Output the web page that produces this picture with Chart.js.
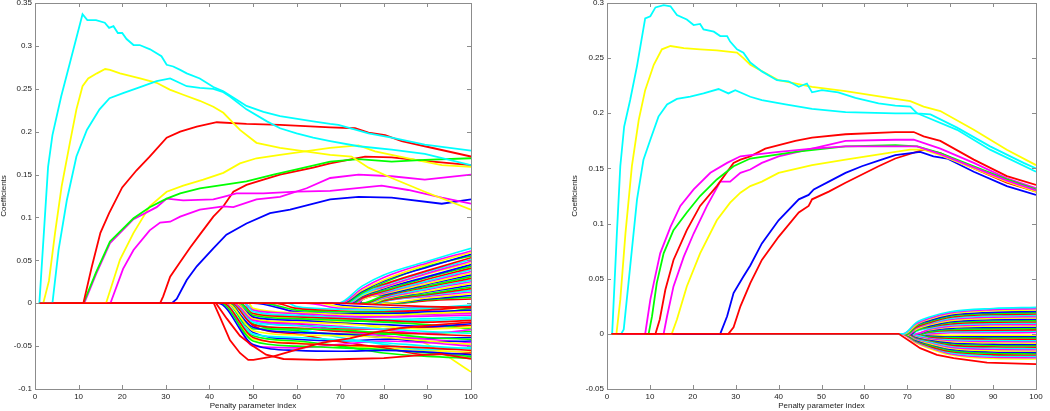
<!DOCTYPE html>
<html>
<head>
<meta charset="utf-8">
<script src="https://cdn.jsdelivr.net/npm/chart.js@4.4.0/dist/chart.umd.min.js"></script>
<style>
    body { margin: 0; background: #fff; width: 1050px; height: 411px; overflow: hidden; position: relative; }
    .panel { position: absolute; top: 0; height: 411px; }
    #left-panel { left: 0; width: 480px; }
    #right-panel { left: 560px; width: 490px; }
</style>
</head>
<body>
<div class="panel" id="left-panel"><canvas id="left-chart" width="480" height="411"></canvas></div>
<div class="panel" id="right-panel"><canvas id="right-chart" width="490" height="411"></canvas></div>
<script>
// 刻度
const xTicks = [0, 10, 20, 30, 40, 50, 60, 70, 80, 90, 100];
const leftYTicks = [-0.1, -0.05, 0, 0.05, 0.1, 0.15, 0.2, 0.25, 0.3, 0.35];
const rightYTicks = [-0.05, 0, 0.05, 0.1, 0.15, 0.2, 0.25, 0.3];

// 左图 - 主要系数路径 [x, y]
const leftBaseRed = [[1, 0], [70, 0], [80, -0.002], [90, -0.004], [100, -0.005]];
const leftCyanA = [[1, 0], [3, 0.159], [4, 0.196], [6, 0.241], [8, 0.28], [10.9, 0.337], [12, 0.330], [14, 0.330], [16, 0.327], [17, 0.321], [18, 0.323], [19, 0.315], [20, 0.315], [21, 0.308], [22.6, 0.301], [24, 0.301], [26.4, 0.296], [29, 0.288], [30.2, 0.278], [31.7, 0.276], [33.3, 0.272], [34.8, 0.268], [37.8, 0.262], [40.9, 0.252], [43.2, 0.247], [47, 0.235], [48.5, 0.230], [52.4, 0.223], [56.2, 0.218], [63.8, 0.212], [67.7, 0.209], [69.6, 0.208], [76.5, 0.198], [81.8, 0.193], [89.4, 0.185], [100, 0.178]];
const leftCyanB = [[4, 0], [5.4, 0.062], [7.3, 0.120], [9.5, 0.171], [11.9, 0.202], [14.8, 0.226], [17.1, 0.239], [20.2, 0.245], [24.1, 0.252], [27.9, 0.259], [31, 0.262], [34.8, 0.253], [37.8, 0.251], [40.9, 0.250], [43.2, 0.246], [44.7, 0.241], [48.5, 0.226], [53.2, 0.212], [56.2, 0.204], [60, 0.198], [63.8, 0.193], [67.7, 0.189], [74.2, 0.183], [81.8, 0.179], [89.4, 0.174], [100, 0.161]];
const leftYellowA = [[1.9, 0], [3.2, 0.026], [4.6, 0.082], [6.1, 0.136], [8, 0.187], [9.5, 0.226], [10.9, 0.253], [12.2, 0.262], [14.2, 0.268], [16.1, 0.273], [17.2, 0.272], [19.5, 0.268], [24.1, 0.262], [27.9, 0.257], [30.9, 0.249], [34, 0.243], [37.8, 0.236], [40.9, 0.229], [43.2, 0.222], [47, 0.202], [50.8, 0.187], [56.2, 0.181], [67.7, 0.173], [72.6, 0.171], [76.5, 0.158], [81.8, 0.146], [89.4, 0.130], [100, 0.109]];
const leftYellowB = [[16.3, 0], [19.5, 0.051], [22.6, 0.082], [26.3, 0.113], [30.2, 0.130], [34, 0.137], [38.6, 0.144], [43.2, 0.152], [47, 0.163], [50.8, 0.169], [56.2, 0.173], [67.7, 0.181], [74.2, 0.184], [78, 0.177], [85.6, 0.169], [93.3, 0.161], [100, 0.159]];
const leftRedA = [[11.1, 0], [13, 0.042], [15, 0.082], [17, 0.105], [20, 0.135], [23.3, 0.155], [26.3, 0.171], [30.2, 0.193], [33.3, 0.200], [37.1, 0.206], [41.7, 0.211], [48.5, 0.209], [56.2, 0.208], [67.7, 0.205], [73.4, 0.204], [76.5, 0.199], [80.3, 0.196], [84.1, 0.189], [89.4, 0.183], [100, 0.171]];
const leftRedB = [[28.7, 0], [29.4, 0.008], [31, 0.031], [33.3, 0.048], [35.6, 0.065], [37.8, 0.080], [40.9, 0.101], [43.2, 0.113], [45.5, 0.130], [48.5, 0.138], [52.4, 0.144], [56.2, 0.150], [63.8, 0.158], [67.7, 0.163], [75.7, 0.171], [81.8, 0.170], [89.4, 0.166], [100, 0.161]];
const leftGreen = [[11.1, 0], [14, 0.036], [17.2, 0.072], [22.6, 0.099], [26.3, 0.112], [30.2, 0.122], [33.3, 0.128], [37.8, 0.134], [43.2, 0.138], [48.5, 0.142], [54.7, 0.150], [60, 0.156], [67.7, 0.165], [74.2, 0.168], [81.8, 0.165], [89.4, 0.167], [100, 0.169]];
const leftMagentaA = [[11.3, 0], [14, 0.034], [17.2, 0.070], [22.6, 0.098], [27.9, 0.112], [30.2, 0.122], [34, 0.120], [40.9, 0.121], [43.2, 0.124], [46.2, 0.128], [52.4, 0.128], [60, 0.130], [67.7, 0.131], [79.5, 0.137], [85.6, 0.132], [93.3, 0.123], [100, 0.116]];
const leftMagentaB = [[17.3, 0], [20.2, 0.040], [22.6, 0.062], [26.3, 0.085], [28.7, 0.094], [31, 0.095], [33.3, 0.101], [37.8, 0.109], [43.2, 0.113], [45.5, 0.112], [50.8, 0.121], [56.2, 0.124], [62.3, 0.134], [67.7, 0.146], [74.2, 0.150], [81.8, 0.148], [89.4, 0.144], [100, 0.150]];
const leftBlue = [[31.4, 0], [32.5, 0.005], [34.8, 0.027], [37.1, 0.043], [40.9, 0.064], [43.9, 0.080], [48.5, 0.093], [53.9, 0.105], [58.5, 0.109], [67.7, 0.121], [74.2, 0.124], [81.8, 0.123], [93.3, 0.116], [100, 0.121]];
const leftRedC = [[41, 0], [42.4, -0.016], [44.7, -0.043], [47, -0.058], [48.9, -0.066], [50.1, -0.066], [54.7, -0.062], [60.8, -0.053], [66, -0.046], [72.2, -0.041], [78, -0.034], [83.7, -0.029], [90, -0.026], [100, -0.022]];
const leftRedD = [[41.5, 0], [44, -0.018], [47, -0.038], [50, -0.050], [53, -0.060], [57, -0.065], [65, -0.066], [72, -0.065], [80, -0.064], [87, -0.061], [93, -0.059], [100, -0.065]];

// 左图 - 负向系数束: [起点, x=50, 60, 70, 80, 90, 100]
const leftNegX = [50, 60, 70, 80, 90, 100];
const leftNegBundle = [
    [42, -0.048, -0.055, -0.056, -0.055, -0.057, -0.060],
    [42.5, -0.044, -0.050, -0.052, -0.054, -0.058, -0.062],
    [43, -0.040, -0.047, -0.049, -0.050, -0.052, -0.055],
    [43, -0.036, -0.040, -0.043, -0.046, -0.050, -0.053],
    [43.5, -0.050, -0.052, -0.048, -0.044, -0.046, -0.050],
    [44, -0.032, -0.037, -0.038, -0.040, -0.044, -0.048],
    [44, -0.028, -0.034, -0.036, -0.040, -0.045, -0.044],
    [44.5, -0.030, -0.030, -0.031, -0.035, -0.040, -0.042],
    [45, -0.025, -0.029, -0.033, -0.034, -0.036, -0.038],
    [45, -0.022, -0.026, -0.028, -0.030, -0.033, -0.035],
    [45.5, -0.020, -0.024, -0.027, -0.031, -0.035, -0.031],
    [46, -0.018, -0.022, -0.024, -0.027, -0.030, -0.028],
    [46, -0.016, -0.020, -0.023, -0.025, -0.027, -0.024],
    [47, -0.014, -0.018, -0.020, -0.022, -0.025, -0.030],
    [47, -0.012, -0.016, -0.018, -0.020, -0.022, -0.020],
    [48, -0.010, -0.014, -0.017, -0.019, -0.018, -0.016],
    [48, -0.008, -0.012, -0.015, -0.016, -0.015, -0.014],
    [49, -0.006, -0.011, -0.013, -0.014, -0.012, -0.010],
    [50, null, -0.010, -0.012, -0.012, -0.010, -0.008],
    [52, null, -0.008, -0.010, -0.011, -0.012, -0.006],
    [55, null, -0.006, -0.009, -0.010, -0.008, -0.004],
    [58, null, -0.004, -0.007, -0.008, -0.006, -0.002],
    [62, null, null, -0.006, -0.008, -0.009, -0.011],
    [65, null, null, -0.004, -0.006, -0.007, -0.005],
    [68, null, null, -0.002, -0.005, -0.006, -0.003],
    [44, -0.038, -0.044, -0.050, -0.058, -0.062, -0.064],
    [46, -0.026, -0.036, -0.045, -0.052, -0.060, -0.058],
    [47, -0.022, -0.030, -0.040, -0.048, -0.054, -0.052],
    [48, -0.018, -0.026, -0.032, -0.038, -0.042, -0.046],
    [46, -0.012, -0.018, -0.022, -0.030, -0.048, -0.080],
    [44, -0.034, -0.042, -0.044, -0.042, -0.041, -0.040],
    [45.5, -0.024, -0.032, -0.036, -0.036, -0.035, -0.033],
    [47, -0.016, -0.024, -0.030, -0.030, -0.028, -0.026],
    [49, -0.008, -0.015, -0.020, -0.021, -0.020, -0.018],
    [53, null, -0.012, -0.016, -0.015, -0.013, -0.012],
    [43, -0.042, -0.046, -0.050, -0.052, -0.055, -0.057]
];

// 左图 - 正向系数束: [起点, x=75, 80, 90, 100]
const leftPosX = [75, 80, 90, 100];
const leftPosBundle = [
    [69.5, 0.020, 0.033, 0.049, 0.064],
    [70, 0.017, 0.030, 0.047, 0.061],
    [70, 0.015, 0.027, 0.045, 0.059],
    [70.5, 0.014, 0.026, 0.042, 0.057],
    [71, 0.012, 0.024, 0.043, 0.055],
    [71, 0.013, 0.022, 0.038, 0.053],
    [71.5, 0.010, 0.021, 0.037, 0.051],
    [72, 0.011, 0.019, 0.035, 0.049],
    [72, 0.009, 0.018, 0.034, 0.047],
    [72.5, 0.008, 0.017, 0.031, 0.045],
    [73, 0.008, 0.015, 0.030, 0.043],
    [73, 0.006, 0.014, 0.028, 0.041],
    [73.5, 0.007, 0.013, 0.026, 0.039],
    [74, 0.005, 0.012, 0.025, 0.037],
    [74, 0.004, 0.011, 0.023, 0.035],
    [74.5, 0.004, 0.010, 0.022, 0.033],
    [75, null, 0.009, 0.020, 0.031],
    [75.5, null, 0.008, 0.019, 0.029],
    [76, null, 0.007, 0.017, 0.027],
    [76, null, 0.006, 0.016, 0.025],
    [77, null, 0.005, 0.014, 0.023],
    [77, null, 0.005, 0.013, 0.021],
    [78, null, 0.004, 0.011, 0.019],
    [78, null, 0.003, 0.010, 0.017],
    [79, null, 0.002, 0.009, 0.015],
    [79, null, 0.002, 0.008, 0.013],
    [80, null, null, 0.006, 0.011],
    [81, null, null, 0.005, 0.009],
    [82, null, null, 0.004, 0.007],
    [83, null, null, 0.003, 0.005]
];

// 右图 - 主要系数路径 [x, y]
const rightBaseRed = [[1, 0], [68, 0], [70.7, -0.007], [73, -0.013], [76.9, -0.019], [80.8, -0.022], [88.6, -0.026], [100, -0.0275]];
const rightCyanA = [[1.2, 0], [2.3, 0.091], [3.1, 0.152], [4, 0.188], [5.4, 0.212], [7, 0.243], [8.9, 0.286], [10.1, 0.288], [11.3, 0.296], [13.2, 0.298], [14.8, 0.297], [16.3, 0.289], [18.6, 0.285], [20.2, 0.280], [21.7, 0.281], [22.5, 0.276], [24.9, 0.274], [26.4, 0.270], [28, 0.270], [28.7, 0.265], [30.3, 0.258], [31.8, 0.255], [33.4, 0.246], [36.1, 0.238], [39.6, 0.230], [42.3, 0.229], [44.7, 0.224], [46.6, 0.227], [47.8, 0.219], [50.1, 0.221], [53.9, 0.219], [57.9, 0.214], [63.3, 0.209], [67.2, 0.207], [70.7, 0.206], [72.3, 0.200], [75.4, 0.199], [81.6, 0.187], [89.3, 0.170], [97.1, 0.155], [100, 0.150]];
const rightCyanB = [[3.3, 0], [3.9, 0.004], [5.4, 0.061], [7, 0.122], [8.5, 0.158], [10.1, 0.176], [12, 0.197], [14, 0.208], [16.3, 0.213], [19.4, 0.215], [22.5, 0.218], [26, 0.222], [28.3, 0.218], [29.9, 0.221], [33.4, 0.215], [36.1, 0.212], [41.6, 0.208], [47.8, 0.204], [55.6, 0.201], [67.2, 0.200], [72.3, 0.200], [81.6, 0.185], [89.3, 0.167], [100, 0.147]];
const rightYellowA = [[2.2, 0], [3.1, 0.031], [4.3, 0.091], [5.8, 0.152], [7.4, 0.194], [8.9, 0.221], [10.9, 0.244], [12.8, 0.258], [14.8, 0.261], [17.9, 0.259], [21.7, 0.258], [25.6, 0.257], [30.3, 0.255], [31.8, 0.250], [33.4, 0.244], [40, 0.230], [47.8, 0.224], [55.6, 0.220], [67.2, 0.213], [70.7, 0.211], [73.8, 0.206], [77.7, 0.202], [85.5, 0.185], [93.2, 0.167], [100, 0.153]];
const rightMagentaA = [[8.9, 0], [10.1, 0.031], [10.9, 0.046], [12.4, 0.073], [14.8, 0.097], [17.1, 0.116], [20.2, 0.131], [24.1, 0.146], [28, 0.155], [31.1, 0.161], [33.4, 0.162], [40, 0.165], [47.8, 0.168], [55.6, 0.170], [67.2, 0.170], [72.3, 0.170], [77.7, 0.163], [85.5, 0.151], [93.2, 0.139], [100, 0.130]];
const rightGreen = [[9.7, 0], [10.5, 0.016], [11.6, 0.046], [13.2, 0.073], [15.5, 0.094], [18.6, 0.110], [21.7, 0.125], [25.6, 0.140], [29.5, 0.152], [33.4, 0.159], [43.9, 0.165], [55.6, 0.170], [67.2, 0.171], [72.3, 0.170], [77.7, 0.164], [85.5, 0.152], [93.2, 0.140], [100, 0.131]];
const rightRedA = [[11.3, 0], [12.3, 0.013], [13.6, 0.040], [15.5, 0.067], [18.6, 0.094], [21.7, 0.116], [25.6, 0.134], [29.5, 0.155], [31.1, 0.158], [33.4, 0.161], [36.9, 0.168], [43.9, 0.175], [47.8, 0.178], [55.6, 0.181], [67.2, 0.183], [71.5, 0.183], [73.8, 0.179], [77.7, 0.175], [85.5, 0.158], [93.2, 0.143], [100, 0.135]];
const rightMagentaB = [[13.2, 0], [14, 0.016], [15.5, 0.043], [17.9, 0.070], [20.2, 0.091], [23.3, 0.116], [26.4, 0.138], [28.7, 0.138], [31.1, 0.146], [33.4, 0.149], [36.1, 0.155], [40, 0.161], [47.8, 0.168], [55.6, 0.175], [67.2, 0.176], [71.5, 0.176], [77.7, 0.168], [85.5, 0.155], [93.2, 0.141], [100, 0.132]];
const rightYellowB = [[15.1, 0], [16.3, 0.013], [18.6, 0.043], [21.7, 0.073], [25.6, 0.103], [28.7, 0.119], [31.1, 0.128], [33.4, 0.134], [36.1, 0.138], [40, 0.146], [47.8, 0.153], [55.6, 0.158], [67.2, 0.165], [70.7, 0.167], [73.8, 0.167], [77.7, 0.162], [85.5, 0.150], [93.2, 0.138], [100, 0.129]];
const rightBlue = [[26.4, 0], [28, 0.016], [29.5, 0.037], [31.8, 0.052], [33.4, 0.062], [36.1, 0.082], [40, 0.103], [44.7, 0.122], [47, 0.126], [48.2, 0.131], [51.7, 0.138], [55.6, 0.146], [59.4, 0.152], [63.3, 0.157], [67.2, 0.162], [73, 0.165], [76.1, 0.161], [79.3, 0.159], [85.5, 0.147], [93.2, 0.134], [100, 0.126]];
const rightRedB = [[28.3, 0], [29.5, 0.006], [31.1, 0.025], [33.4, 0.046], [36.1, 0.067], [40, 0.088], [44.7, 0.110], [47, 0.116], [47.8, 0.122], [51.7, 0.129], [55.6, 0.137], [63.3, 0.152], [67.2, 0.159], [73.8, 0.167], [77.7, 0.164], [85.5, 0.150], [93.2, 0.137], [100, 0.129]];

// 右图 - 系数束: [起点, x=72, 75, 80, 90, 100]
const rightBundleX = [72, 75, 80, 90, 100];
const rightBundle = [
    [69, 0.010, 0.015, 0.020, 0.023, 0.024],
    [69, 0.009, 0.014, 0.019, 0.022, 0.0228],
    [69.5, 0.008, 0.013, 0.018, 0.021, 0.0216],
    [69.5, 0.008, 0.012, 0.017, 0.0195, 0.0204],
    [70, 0.007, 0.011, 0.016, 0.0185, 0.0192],
    [70, 0.006, 0.010, 0.015, 0.0175, 0.018],
    [70, 0.006, 0.0095, 0.014, 0.0165, 0.0168],
    [70.5, 0.005, 0.009, 0.013, 0.0152, 0.0156],
    [70.5, 0.004, 0.008, 0.012, 0.014, 0.0144],
    [71, 0.004, 0.007, 0.011, 0.0128, 0.0132],
    [71, 0.003, 0.0065, 0.010, 0.0116, 0.012],
    [71, 0.003, 0.006, 0.009, 0.0105, 0.0108],
    [71.5, 0.002, 0.005, 0.008, 0.0094, 0.0096],
    [72, null, 0.004, 0.007, 0.0082, 0.0084],
    [72, null, 0.0035, 0.006, 0.007, 0.0072],
    [72.5, null, 0.003, 0.005, 0.0058, 0.006],
    [73, null, 0.002, 0.004, 0.0046, 0.0048],
    [73, null, 0.0015, 0.003, 0.0034, 0.0036],
    [74, null, 0.001, 0.002, 0.0022, 0.0024],
    [75, null, null, 0.001, 0.0011, 0.0012],
    [74, null, -0.0005, -0.0012, -0.0013, -0.0012],
    [73, null, -0.0012, -0.002, -0.0023, -0.0024],
    [72.5, null, -0.002, -0.003, -0.0034, -0.0036],
    [72, null, -0.0025, -0.004, -0.0046, -0.0048],
    [71.5, -0.001, -0.003, -0.005, -0.0057, -0.006],
    [71, -0.0015, -0.004, -0.006, -0.0069, -0.0072],
    [71, -0.002, -0.0045, -0.007, -0.0081, -0.0084],
    [70.5, -0.0025, -0.005, -0.008, -0.0093, -0.0096],
    [70.5, -0.003, -0.0055, -0.009, -0.0105, -0.0108],
    [70, -0.0035, -0.006, -0.010, -0.0117, -0.012],
    [70, -0.004, -0.007, -0.011, -0.0128, -0.0132],
    [70, -0.0045, -0.0075, -0.012, -0.014, -0.0144],
    [69.5, -0.005, -0.0085, -0.013, -0.0152, -0.0156],
    [69.5, -0.0055, -0.009, -0.014, -0.0164, -0.0168],
    [69, -0.006, -0.010, -0.015, -0.0176, -0.018],
    [69, -0.0065, -0.011, -0.016, -0.0188, -0.0192],
    [69, -0.007, -0.0115, -0.017, -0.020, -0.0204],
    [68.5, -0.0075, -0.012, -0.018, -0.0212, -0.0216],
    [68.5, -0.008, -0.013, -0.019, -0.0224, -0.0228]
];

const colorCodes = { b: '#0000ff', g: '#00ff00', r: '#ff0000', c: '#00ffff', m: '#ff00ff', y: '#ffff00' };
const colorCycle = ['b', 'g', 'r', 'c', 'm', 'y'];
const textColor = '#1a1a1a';
const fontFamily = '"Liberation Sans", Arial, Helvetica, sans-serif';

function pathDataset(pairs, code) {
    const points = pairs.map(([x, y]) => ({ x, y }));
    if (points[0].x > 1) points.unshift({ x: 1, y: 0 });
    return { data: points, borderColor: colorCodes[code], borderWidth: 1.8, tension: 0 };
}

function bundleDataset(row, cols, code) {
    const points = [{ x: 1, y: 0 }, { x: row[0], y: 0 }];
    cols.forEach((x, i) => {
        if (row[i + 1] !== null) points.push({ x, y: row[i + 1] });
    });
    return { data: points, borderColor: colorCodes[code], borderWidth: 1.6, cubicInterpolationMode: 'monotone' };
}

function formatTick(v) {
    const r = Math.round(v * 100) / 100;
    return (r < 0 ? '-' : '') + String(Math.abs(r));
}

// 方框和向内的刻度线
const boxPlugin = {
    id: 'matlabBox',
    afterDatasetsDraw(chart) {
        const { ctx, chartArea: a, scales } = chart;
        ctx.save();
        ctx.strokeStyle = '#8c8c8c';
        ctx.lineWidth = 1;
        ctx.strokeRect(Math.round(a.left) + 0.5, Math.round(a.top) + 0.5, Math.round(a.right - a.left), Math.round(a.bottom - a.top));
        ctx.beginPath();
        scales.x.ticks.forEach(t => {
            const px = Math.round(scales.x.getPixelForValue(t.value)) + 0.5;
            ctx.moveTo(px, a.bottom); ctx.lineTo(px, a.bottom - 4);
            ctx.moveTo(px, a.top); ctx.lineTo(px, a.top + 4);
        });
        scales.y.ticks.forEach(t => {
            const py = Math.round(scales.y.getPixelForValue(t.value)) + 0.5;
            ctx.moveTo(a.left, py); ctx.lineTo(a.left + 4, py);
            ctx.moveTo(a.right, py); ctx.lineTo(a.right - 4, py);
        });
        ctx.stroke();
        ctx.restore();
    }
};

function buildOptions(yMin, yMax, yTicks, yWidth, yTitlePad, rightPad) {
    const font = { family: fontFamily, size: 8 };
    return {
        responsive: false,
        animation: false,
        events: [],
        layout: { padding: { left: 0, top: 3, right: rightPad, bottom: 0 } },
        elements: { point: { radius: 0 } },
        plugins: { legend: { display: false }, tooltip: { enabled: false } },
        scales: {
            x: {
                type: 'linear', min: 0, max: 100,
                grid: { display: false, drawTicks: false },
                border: { display: false },
                afterBuildTicks: s => { s.ticks = xTicks.map(v => ({ value: v })); },
                ticks: { font, color: textColor, padding: 3, maxRotation: 0, autoSkip: false },
                title: { display: true, text: 'Penalty parameter index', color: textColor, font: { ...font, lineHeight: 1 }, padding: { top: 0, bottom: 1 } },
                afterFit: s => { s.height = 22; s.paddingLeft = 0; s.paddingRight = 0; }
            },
            y: {
                type: 'linear', min: yMin, max: yMax,
                grid: { display: false, drawTicks: false },
                border: { display: false },
                afterBuildTicks: s => { s.ticks = yTicks.map(v => ({ value: v })); },
                ticks: { font, color: textColor, padding: 3, autoSkip: false, callback: v => formatTick(v) },
                title: { display: true, text: 'Coefficients', color: textColor, font: { ...font, lineHeight: 1 }, padding: { top: yTitlePad, bottom: 0 } },
                afterFit: s => { s.width = yWidth; s.paddingTop = 0; s.paddingBottom = 0; }
            }
        }
    };
}

// 左图
const leftDatasets = [
    pathDataset(leftBaseRed, 'r'),
    pathDataset(leftCyanA, 'c'),
    pathDataset(leftCyanB, 'c'),
    pathDataset(leftYellowA, 'y'),
    pathDataset(leftRedA, 'r'),
    pathDataset(leftGreen, 'g'),
    pathDataset(leftMagentaA, 'm'),
    pathDataset(leftYellowB, 'y'),
    pathDataset(leftMagentaB, 'm'),
    pathDataset(leftRedB, 'r'),
    pathDataset(leftBlue, 'b'),
    pathDataset(leftRedC, 'r'),
    pathDataset(leftRedD, 'r')
];
leftNegBundle.forEach((row, i) => leftDatasets.push(bundleDataset(row, leftNegX, colorCycle[i % 6])));
leftPosBundle.forEach((row, i) => leftDatasets.push(bundleDataset(row, leftPosX, colorCycle[(i + 3) % 6])));

new Chart(document.getElementById('left-chart'), {
    type: 'line',
    data: { datasets: leftDatasets },
    options: buildOptions(-0.1, 0.35, leftYTicks, 35, 0, 9),
    plugins: [boxPlugin]
});

// 右图
const rightDatasets = [
    pathDataset(rightBaseRed, 'r'),
    pathDataset(rightCyanA, 'c'),
    pathDataset(rightYellowA, 'y'),
    pathDataset(rightCyanB, 'c'),
    pathDataset(rightMagentaA, 'm'),
    pathDataset(rightGreen, 'g'),
    pathDataset(rightRedA, 'r'),
    pathDataset(rightMagentaB, 'm'),
    pathDataset(rightYellowB, 'y'),
    pathDataset(rightBlue, 'b'),
    pathDataset(rightRedB, 'r')
];
rightBundle.forEach((row, i) => rightDatasets.push(bundleDataset(row, rightBundleX, colorCycle[(i + 3) % 6])));

new Chart(document.getElementById('right-chart'), {
    type: 'line',
    data: { datasets: rightDatasets },
    options: buildOptions(-0.05, 0.3, rightYTicks, 47, 11, 14),
    plugins: [boxPlugin]
});
</script>
</body>
</html>
